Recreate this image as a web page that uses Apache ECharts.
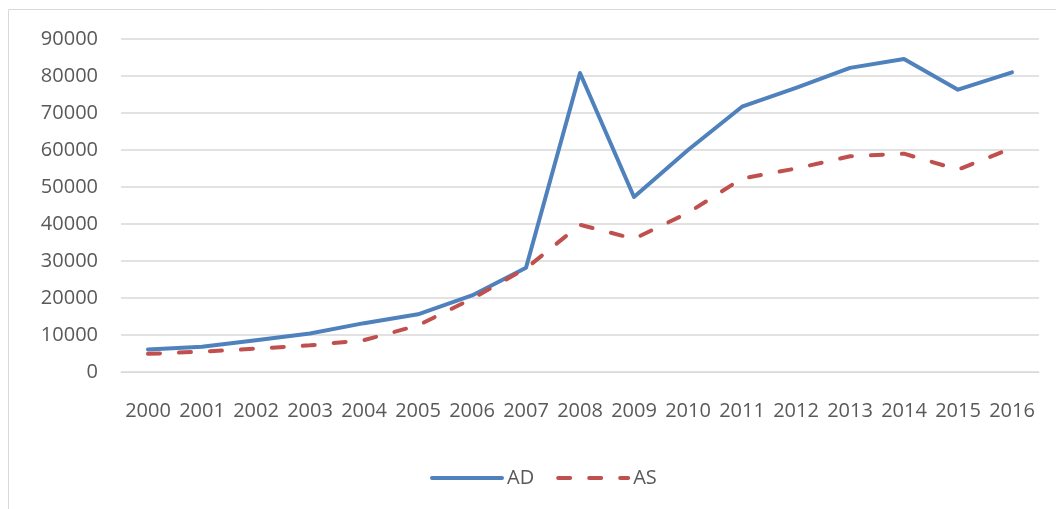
<!DOCTYPE html>
<html>
<head>
<meta charset="utf-8">
<script src="https://cdn.jsdelivr.net/npm/echarts@6/dist/echarts.min.js"></script>
<style>
  html, body { margin: 0; padding: 0; background: #fff; }
  #chart { width: 1056px; height: 509px; }
</style>
</head>
<body>
<div id="chart"></div>
<script>
// data
var years = ['2000', '2001', '2002', '2003', '2004', '2005', '2006', '2007', '2008',
             '2009', '2010', '2011', '2012', '2013', '2014', '2015', '2016'];
var adValues = [6100, 6800, 8600, 10400, 13200, 15600, 20700, 28200, 80800,
                47300, 60000, 71700, 76800, 82200, 84600, 76300, 81000];
var asValues = [4900, 5500, 6300, 7200, 8600, 12600, 19800, 28000, 39800,
                36000, 43000, 52300, 55000, 58300, 59000, 54700, 60500];

var textColor = '#595959';
var font = '"Open Sans", sans-serif';

var chart = echarts.init(document.getElementById('chart'));
chart.setOption({
    animation: false,
    textStyle: { fontFamily: font },
    graphic: [{
        type: 'rect',
        shape: { x: 8.5, y: 9.5, width: 1060, height: 520 },
        style: { fill: 'none', stroke: '#D9D9D9', lineWidth: 1 }
    }],
    grid: { left: 121, right: 17, top: 39, bottom: 137 },
    legend: {
        left: 425,
        top: 463,
        itemWidth: 70,
        itemHeight: 14,
        itemGap: 22,
        itemStyle: { opacity: 0 },
        lineStyle: { width: 4 },
        textStyle: { color: textColor, fontSize: 20, fontFamily: font },
        data: ['AD', 'AS']
    },
    xAxis: {
        type: 'category',
        data: years,
        axisLine: { lineStyle: { color: '#D9D9D9', width: 1 } },
        axisTick: { show: false },
        axisLabel: { color: textColor, fontSize: 20, margin: 29, interval: 0, fontFamily: font }
    },
    yAxis: {
        type: 'value',
        min: 0,
        max: 90000,
        interval: 10000,
        axisLine: { show: false },
        axisTick: { show: false },
        splitLine: { lineStyle: { color: '#D9D9D9', width: 1.5 } },
        axisLabel: {
            color: textColor, fontSize: 20, margin: 23, fontFamily: font,
            formatter: function (v) { return String(v); }
        }
    },
    series: [{
        name: 'AD',
        type: 'line',
        data: adValues,
        symbol: 'none',
        color: '#4F81BD',
        lineStyle: { width: 4, color: '#4F81BD', cap: 'round', join: 'round' }
    }, {
        name: 'AS',
        type: 'line',
        data: asValues,
        symbol: 'none',
        color: '#C0504D',
        lineStyle: { width: 4, color: '#C0504D', type: [12, 19], cap: 'round', join: 'round' }
    }]
});
</script>
</body>
</html>
